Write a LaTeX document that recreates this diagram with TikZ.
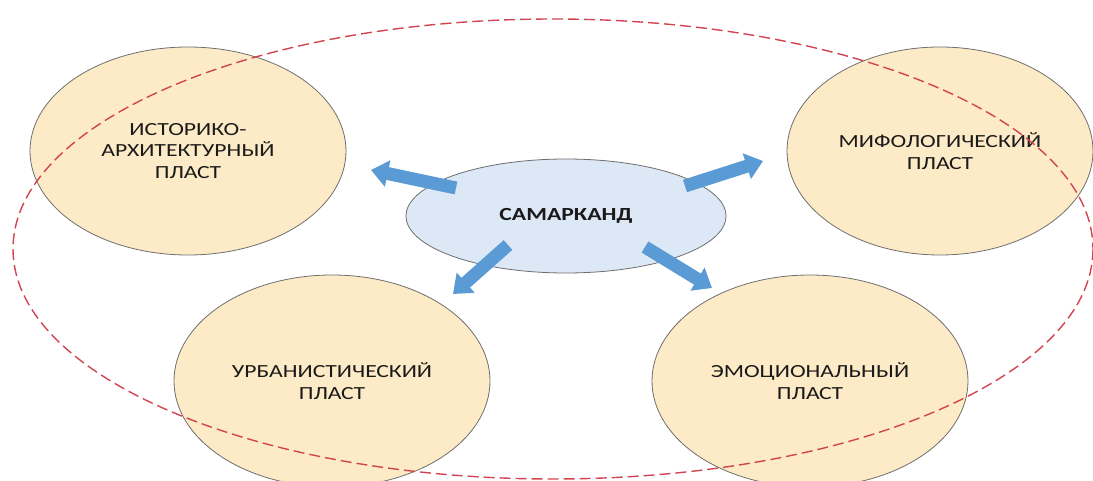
\documentclass[tikz,border=0pt]{standalone}
\usepackage{fontspec}
\setmainfont{Carlito}[FakeStretch=1.28]
\usetikzlibrary{shapes.geometric,arrows.meta}
\definecolor{layerfill}{HTML}{FCEBC6}
\definecolor{cityfill}{HTML}{DCE8F5}
\definecolor{edgegray}{HTML}{6E6E6E}
\definecolor{arrowblue}{HTML}{5B9BD5}
\definecolor{dashred}{HTML}{D2444F}
\definecolor{txt}{HTML}{1A1A1A}
\tikzset{
  layer/.style={ellipse, draw=edgegray, line width=0.8pt, fill=layerfill, inner sep=0pt,
    text=txt, align=center, font=\fontsize{18.5}{21.5}\selectfont},
  city/.style={ellipse, draw=edgegray, line width=0.8pt, fill=cityfill, inner sep=0pt,
    text=txt, align=center, font=\fontsize{18.5}{21.5}\selectfont\bfseries},
  blockarrow/.style={draw=arrowblue, line width=13pt,
    -{Triangle[width=26pt,length=17pt]}},
  outline/.style={draw=dashred, line width=1.4pt, dash pattern=on 11pt off 5pt}
}
\begin{document}
\begin{tikzpicture}[x=1pt,y=-1pt]
\useasboundingbox (0,0) rectangle (1093,481);
\node[layer, minimum width=316pt, minimum height=208pt] (hist) at (188,151)
  {ИСТОРИКО-\\АРХИТЕКТУРНЫЙ\\ПЛАСТ};
\node[layer, minimum width=306pt, minimum height=208pt] (myth) at (940,151)
  {МИФОЛОГИЧЕСКИЙ\\ПЛАСТ};
\node[layer, minimum width=316pt, minimum height=212pt] (urb) at (332,381)
  {УРБАНИСТИЧЕСКИЙ\\ПЛАСТ};
\node[layer, minimum width=316pt, minimum height=212pt] (emo) at (810,381)
  {ЭМОЦИОНАЛЬНЫЙ\\ПЛАСТ};
\node[city, minimum width=320pt, minimum height=114pt] (sam) at (566,216) {САМАРКАНД};
\coordinate (oc) at (553,249);
\draw[outline] (oc) ellipse [x radius=540, y radius=230];
\coordinate (t1) at (456,188); \coordinate (h1) at (371,170);
\coordinate (t2) at (685,186); \coordinate (h2) at (763,161);
\coordinate (t3) at (508,245); \coordinate (h3) at (453,294);
\coordinate (t4) at (645,247); \coordinate (h4) at (712,288);
\draw[blockarrow] (t1) -- (h1);
\draw[blockarrow] (t2) -- (h2);
\draw[blockarrow] (t3) -- (h3);
\draw[blockarrow] (t4) -- (h4);
\end{tikzpicture}
\end{document}
